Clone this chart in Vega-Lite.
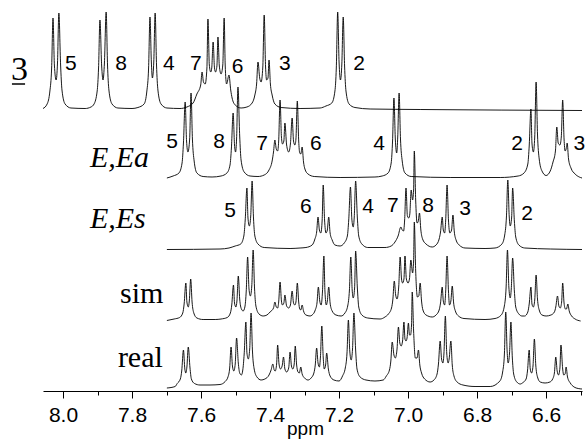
{
"$schema": "https://vega.github.io/schema/vega-lite/v6.json",
"width": 539, "height": 391,
"autosize": {"type": "none"},
"padding": {"left": 43, "top": 0, "right": 5, "bottom": 48},
"background": "white",
"config": {"view": {"stroke": null}},
"datasets": {
"spec": [
{"s":"t","x":8.058,"y":282.5},{"s":"t","x":8.046,"y":287},{"s":"t","x":8.038,"y":300},{"s":"t","x":8.033,"y":323},{"s":"t","x":8.029,"y":373},{"s":"t","x":8.025,"y":326},{"s":"t","x":8.020,"y":311},{"s":"t","x":8.016,"y":328},{"s":"t","x":8.012,"y":378},{"s":"t","x":8.007,"y":326},{"s":"t","x":8.003,"y":301},{"s":"t","x":7.994,"y":287},{"s":"t","x":7.977,"y":283},{"s":"t","x":7.936,"y":282.5},{"s":"t","x":7.919,"y":284},{"s":"t","x":7.910,"y":287},{"s":"t","x":7.901,"y":300},{"s":"t","x":7.897,"y":323},{"s":"t","x":7.893,"y":371},{"s":"t","x":7.888,"y":325},{"s":"t","x":7.884,"y":311},{"s":"t","x":7.880,"y":328},{"s":"t","x":7.875,"y":379},{"s":"t","x":7.871,"y":326},{"s":"t","x":7.867,"y":301},{"s":"t","x":7.858,"y":287},{"s":"t","x":7.841,"y":283},{"s":"t","x":7.800,"y":282.5},{"s":"t","x":7.783,"y":283.5},{"s":"t","x":7.765,"y":287},{"s":"t","x":7.757,"y":300},{"s":"t","x":7.752,"y":323},{"s":"t","x":7.748,"y":374},{"s":"t","x":7.744,"y":329},{"s":"t","x":7.741,"y":313},{"s":"t","x":7.737,"y":329},{"s":"t","x":7.733,"y":378},{"s":"t","x":7.729,"y":326},{"s":"t","x":7.725,"y":301},{"s":"t","x":7.716,"y":287},{"s":"t","x":7.699,"y":283},{"s":"t","x":7.661,"y":282.5},{"s":"t","x":7.641,"y":284},{"s":"t","x":7.623,"y":288},{"s":"t","x":7.612,"y":297},{"s":"t","x":7.601,"y":306},{"s":"t","x":7.597,"y":319},{"s":"t","x":7.593,"y":309},{"s":"t","x":7.588,"y":307},{"s":"t","x":7.583,"y":323},{"s":"t","x":7.580,"y":372},{"s":"t","x":7.576,"y":326},{"s":"t","x":7.572,"y":319},{"s":"t","x":7.569,"y":323},{"s":"t","x":7.565,"y":349},{"s":"t","x":7.561,"y":323},{"s":"t","x":7.558,"y":319},{"s":"t","x":7.554,"y":325},{"s":"t","x":7.551,"y":354},{"s":"t","x":7.547,"y":325},{"s":"t","x":7.542,"y":317},{"s":"t","x":7.537,"y":326},{"s":"t","x":7.533,"y":373},{"s":"t","x":7.530,"y":326},{"s":"t","x":7.526,"y":307},{"s":"t","x":7.519,"y":316},{"s":"t","x":7.514,"y":301},{"s":"t","x":7.510,"y":293},{"s":"t","x":7.501,"y":286},{"s":"t","x":7.484,"y":283},{"s":"t","x":7.467,"y":284},{"s":"t","x":7.452,"y":288},{"s":"t","x":7.444,"y":296},{"s":"t","x":7.439,"y":307},{"s":"t","x":7.435,"y":329},{"s":"t","x":7.430,"y":313},{"s":"t","x":7.426,"y":309},{"s":"t","x":7.421,"y":324},{"s":"t","x":7.417,"y":376},{"s":"t","x":7.413,"y":324},{"s":"t","x":7.410,"y":311},{"s":"t","x":7.406,"y":313},{"s":"t","x":7.403,"y":331},{"s":"t","x":7.399,"y":307},{"s":"t","x":7.394,"y":296},{"s":"t","x":7.386,"y":287},{"s":"t","x":7.368,"y":283.5},{"s":"t","x":7.313,"y":282.5},{"s":"t","x":7.255,"y":283},{"s":"t","x":7.238,"y":285},{"s":"t","x":7.221,"y":288},{"s":"t","x":7.212,"y":300},{"s":"t","x":7.208,"y":323},{"s":"t","x":7.204,"y":379},{"s":"t","x":7.200,"y":329},{"s":"t","x":7.196,"y":311},{"s":"t","x":7.192,"y":327},{"s":"t","x":7.188,"y":374},{"s":"t","x":7.184,"y":325},{"s":"t","x":7.180,"y":300},{"s":"t","x":7.171,"y":287},{"s":"t","x":7.154,"y":283.5},{"s":"t","x":7.110,"y":282},{"s":"t","x":6.965,"y":281.5},{"s":"t","x":6.496,"y":280.5},
{"s":"a","x":7.699,"y":213},{"s":"a","x":7.681,"y":215},{"s":"a","x":7.664,"y":218},{"s":"a","x":7.655,"y":228},{"s":"a","x":7.651,"y":248},{"s":"a","x":7.646,"y":289},{"s":"a","x":7.642,"y":250},{"s":"a","x":7.638,"y":239},{"s":"a","x":7.633,"y":252},{"s":"a","x":7.629,"y":298},{"s":"a","x":7.625,"y":252},{"s":"a","x":7.620,"y":230},{"s":"a","x":7.612,"y":218},{"s":"a","x":7.594,"y":214.5},{"s":"a","x":7.568,"y":214},{"s":"a","x":7.542,"y":215},{"s":"a","x":7.525,"y":218},{"s":"a","x":7.516,"y":226},{"s":"a","x":7.512,"y":243},{"s":"a","x":7.507,"y":278},{"s":"a","x":7.503,"y":246},{"s":"a","x":7.500,"y":239},{"s":"a","x":7.497,"y":252},{"s":"a","x":7.493,"y":304},{"s":"a","x":7.488,"y":255},{"s":"a","x":7.484,"y":231},{"s":"a","x":7.475,"y":219},{"s":"a","x":7.458,"y":215},{"s":"a","x":7.435,"y":214.5},{"s":"a","x":7.417,"y":216},{"s":"a","x":7.403,"y":221},{"s":"a","x":7.394,"y":230},{"s":"a","x":7.390,"y":239},{"s":"a","x":7.386,"y":251},{"s":"a","x":7.382,"y":242},{"s":"a","x":7.378,"y":240},{"s":"a","x":7.375,"y":250},{"s":"a","x":7.371,"y":291},{"s":"a","x":7.367,"y":254},{"s":"a","x":7.364,"y":247},{"s":"a","x":7.360,"y":250},{"s":"a","x":7.357,"y":268},{"s":"a","x":7.352,"y":246},{"s":"a","x":7.346,"y":239},{"s":"a","x":7.341,"y":247},{"s":"a","x":7.336,"y":273},{"s":"a","x":7.332,"y":250},{"s":"a","x":7.328,"y":246},{"s":"a","x":7.325,"y":252},{"s":"a","x":7.321,"y":290},{"s":"a","x":7.317,"y":250},{"s":"a","x":7.314,"y":238},{"s":"a","x":7.311,"y":237},{"s":"a","x":7.307,"y":244},{"s":"a","x":7.303,"y":229},{"s":"a","x":7.299,"y":222},{"s":"a","x":7.290,"y":217},{"s":"a","x":7.272,"y":214.5},{"s":"a","x":7.197,"y":213.5},{"s":"a","x":7.096,"y":214},{"s":"a","x":7.075,"y":215},{"s":"a","x":7.058,"y":218},{"s":"a","x":7.049,"y":228},{"s":"a","x":7.045,"y":250},{"s":"a","x":7.041,"y":293},{"s":"a","x":7.037,"y":252},{"s":"a","x":7.033,"y":238},{"s":"a","x":7.030,"y":254},{"s":"a","x":7.026,"y":298},{"s":"a","x":7.022,"y":252},{"s":"a","x":7.017,"y":230},{"s":"a","x":7.009,"y":218},{"s":"a","x":6.991,"y":214.5},{"s":"a","x":6.878,"y":213.5},{"s":"a","x":6.733,"y":213.5},{"s":"a","x":6.681,"y":215},{"s":"a","x":6.664,"y":218},{"s":"a","x":6.653,"y":227},{"s":"a","x":6.649,"y":245},{"s":"a","x":6.644,"y":282},{"s":"a","x":6.641,"y":248},{"s":"a","x":6.637,"y":239},{"s":"a","x":6.633,"y":254},{"s":"a","x":6.629,"y":309},{"s":"a","x":6.625,"y":257},{"s":"a","x":6.620,"y":232},{"s":"a","x":6.612,"y":220},{"s":"a","x":6.600,"y":215.5},{"s":"a","x":6.588,"y":220},{"s":"a","x":6.580,"y":229},{"s":"a","x":6.573,"y":240},{"s":"a","x":6.569,"y":264},{"s":"a","x":6.565,"y":248},{"s":"a","x":6.560,"y":246},{"s":"a","x":6.556,"y":254},{"s":"a","x":6.552,"y":291},{"s":"a","x":6.548,"y":252},{"s":"a","x":6.545,"y":240},{"s":"a","x":6.542,"y":242},{"s":"a","x":6.539,"y":248},{"s":"a","x":6.535,"y":232},{"s":"a","x":6.528,"y":223},{"s":"a","x":6.516,"y":217},{"s":"a","x":6.504,"y":214},{"s":"a","x":6.496,"y":213},
{"s":"e","x":7.699,"y":141.5},{"s":"e","x":7.545,"y":142},{"s":"e","x":7.519,"y":143},{"s":"e","x":7.501,"y":145},{"s":"e","x":7.485,"y":147},{"s":"e","x":7.476,"y":155},{"s":"e","x":7.472,"y":171},{"s":"e","x":7.467,"y":203},{"s":"e","x":7.464,"y":173},{"s":"e","x":7.460,"y":165},{"s":"e","x":7.456,"y":175},{"s":"e","x":7.452,"y":210},{"s":"e","x":7.448,"y":173},{"s":"e","x":7.444,"y":155},{"s":"e","x":7.435,"y":147},{"s":"e","x":7.417,"y":143.5},{"s":"e","x":7.342,"y":142.5},{"s":"e","x":7.313,"y":143},{"s":"e","x":7.296,"y":143.5},{"s":"e","x":7.278,"y":146},{"s":"e","x":7.270,"y":152},{"s":"e","x":7.265,"y":159},{"s":"e","x":7.261,"y":174},{"s":"e","x":7.257,"y":161},{"s":"e","x":7.253,"y":158},{"s":"e","x":7.249,"y":171},{"s":"e","x":7.246,"y":206},{"s":"e","x":7.242,"y":171},{"s":"e","x":7.238,"y":158},{"s":"e","x":7.234,"y":161},{"s":"e","x":7.230,"y":174},{"s":"e","x":7.226,"y":158},{"s":"e","x":7.220,"y":151},{"s":"e","x":7.212,"y":146},{"s":"e","x":7.197,"y":145},{"s":"e","x":7.185,"y":148},{"s":"e","x":7.176,"y":155},{"s":"e","x":7.172,"y":171},{"s":"e","x":7.167,"y":204},{"s":"e","x":7.163,"y":172},{"s":"e","x":7.159,"y":164},{"s":"e","x":7.156,"y":174},{"s":"e","x":7.152,"y":210},{"s":"e","x":7.147,"y":173},{"s":"e","x":7.143,"y":155},{"s":"e","x":7.134,"y":147},{"s":"e","x":7.117,"y":143.5},{"s":"e","x":7.067,"y":143.5},{"s":"e","x":7.049,"y":145},{"s":"e","x":7.038,"y":149},{"s":"e","x":7.029,"y":155},{"s":"e","x":7.021,"y":164},{"s":"e","x":7.017,"y":161},{"s":"e","x":7.013,"y":160},{"s":"e","x":7.010,"y":171},{"s":"e","x":7.006,"y":203},{"s":"e","x":7.002,"y":175},{"s":"e","x":6.998,"y":173},{"s":"e","x":6.995,"y":177},{"s":"e","x":6.991,"y":201},{"s":"e","x":6.987,"y":191},{"s":"e","x":6.984,"y":201},{"s":"e","x":6.982,"y":240},{"s":"e","x":6.978,"y":191},{"s":"e","x":6.974,"y":168},{"s":"e","x":6.971,"y":169},{"s":"e","x":6.967,"y":178},{"s":"e","x":6.963,"y":161},{"s":"e","x":6.958,"y":152},{"s":"e","x":6.948,"y":147},{"s":"e","x":6.930,"y":144},{"s":"e","x":6.919,"y":146},{"s":"e","x":6.910,"y":152},{"s":"e","x":6.906,"y":159},{"s":"e","x":6.901,"y":174},{"s":"e","x":6.898,"y":161},{"s":"e","x":6.894,"y":158},{"s":"e","x":6.891,"y":171},{"s":"e","x":6.887,"y":206},{"s":"e","x":6.883,"y":171},{"s":"e","x":6.879,"y":158},{"s":"e","x":6.874,"y":161},{"s":"e","x":6.870,"y":176},{"s":"e","x":6.866,"y":159},{"s":"e","x":6.861,"y":151},{"s":"e","x":6.852,"y":146},{"s":"e","x":6.835,"y":143},{"s":"e","x":6.777,"y":142.5},{"s":"e","x":6.748,"y":143},{"s":"e","x":6.728,"y":147},{"s":"e","x":6.720,"y":156},{"s":"e","x":6.715,"y":174},{"s":"e","x":6.711,"y":211},{"s":"e","x":6.707,"y":175},{"s":"e","x":6.704,"y":165},{"s":"e","x":6.700,"y":173},{"s":"e","x":6.697,"y":203},{"s":"e","x":6.692,"y":170},{"s":"e","x":6.688,"y":154},{"s":"e","x":6.679,"y":146},{"s":"e","x":6.662,"y":143},{"s":"e","x":6.588,"y":142},{"s":"e","x":6.496,"y":141.5},
{"s":"m","x":7.699,"y":70.5},{"s":"m","x":7.678,"y":72},{"s":"m","x":7.662,"y":73.5},{"s":"m","x":7.653,"y":78},{"s":"m","x":7.649,"y":87},{"s":"m","x":7.644,"y":108},{"s":"m","x":7.641,"y":89},{"s":"m","x":7.637,"y":84},{"s":"m","x":7.634,"y":90},{"s":"m","x":7.630,"y":112},{"s":"m","x":7.626,"y":89},{"s":"m","x":7.621,"y":78},{"s":"m","x":7.612,"y":73},{"s":"m","x":7.594,"y":71.5},{"s":"m","x":7.559,"y":71.5},{"s":"m","x":7.542,"y":72},{"s":"m","x":7.524,"y":73.5},{"s":"m","x":7.515,"y":78},{"s":"m","x":7.511,"y":86},{"s":"m","x":7.506,"y":106},{"s":"m","x":7.503,"y":88},{"s":"m","x":7.499,"y":84},{"s":"m","x":7.496,"y":90},{"s":"m","x":7.492,"y":115},{"s":"m","x":7.488,"y":92},{"s":"m","x":7.483,"y":82},{"s":"m","x":7.478,"y":80},{"s":"m","x":7.473,"y":84},{"s":"m","x":7.469,"y":100},{"s":"m","x":7.465,"y":134},{"s":"m","x":7.461,"y":102},{"s":"m","x":7.457,"y":95},{"s":"m","x":7.453,"y":105},{"s":"m","x":7.449,"y":141},{"s":"m","x":7.445,"y":103},{"s":"m","x":7.441,"y":85},{"s":"m","x":7.432,"y":77},{"s":"m","x":7.420,"y":75},{"s":"m","x":7.409,"y":76},{"s":"m","x":7.400,"y":79},{"s":"m","x":7.390,"y":83},{"s":"m","x":7.386,"y":89},{"s":"m","x":7.382,"y":84},{"s":"m","x":7.378,"y":83},{"s":"m","x":7.375,"y":89},{"s":"m","x":7.371,"y":109},{"s":"m","x":7.367,"y":90},{"s":"m","x":7.364,"y":86},{"s":"m","x":7.360,"y":88},{"s":"m","x":7.357,"y":96},{"s":"m","x":7.352,"y":85},{"s":"m","x":7.346,"y":83},{"s":"m","x":7.341,"y":86},{"s":"m","x":7.336,"y":100},{"s":"m","x":7.332,"y":88},{"s":"m","x":7.328,"y":86},{"s":"m","x":7.325,"y":89},{"s":"m","x":7.321,"y":108},{"s":"m","x":7.317,"y":89},{"s":"m","x":7.314,"y":82},{"s":"m","x":7.311,"y":81},{"s":"m","x":7.307,"y":86},{"s":"m","x":7.303,"y":80},{"s":"m","x":7.296,"y":76},{"s":"m","x":7.284,"y":75},{"s":"m","x":7.278,"y":76},{"s":"m","x":7.269,"y":81},{"s":"m","x":7.264,"y":88},{"s":"m","x":7.260,"y":104},{"s":"m","x":7.256,"y":90},{"s":"m","x":7.252,"y":86},{"s":"m","x":7.248,"y":100},{"s":"m","x":7.244,"y":135},{"s":"m","x":7.241,"y":100},{"s":"m","x":7.237,"y":86},{"s":"m","x":7.234,"y":90},{"s":"m","x":7.230,"y":104},{"s":"m","x":7.226,"y":88},{"s":"m","x":7.220,"y":80},{"s":"m","x":7.209,"y":76},{"s":"m","x":7.194,"y":75},{"s":"m","x":7.183,"y":78},{"s":"m","x":7.175,"y":85},{"s":"m","x":7.170,"y":101},{"s":"m","x":7.166,"y":134},{"s":"m","x":7.162,"y":101},{"s":"m","x":7.159,"y":93},{"s":"m","x":7.155,"y":103},{"s":"m","x":7.152,"y":140},{"s":"m","x":7.147,"y":103},{"s":"m","x":7.143,"y":84},{"s":"m","x":7.134,"y":76},{"s":"m","x":7.117,"y":73},{"s":"m","x":7.081,"y":72},{"s":"m","x":7.067,"y":74},{"s":"m","x":7.057,"y":77},{"s":"m","x":7.048,"y":83},{"s":"m","x":7.044,"y":92},{"s":"m","x":7.040,"y":110},{"s":"m","x":7.036,"y":96},{"s":"m","x":7.032,"y":92},{"s":"m","x":7.027,"y":105},{"s":"m","x":7.023,"y":134},{"s":"m","x":7.019,"y":112},{"s":"m","x":7.016,"y":108},{"s":"m","x":7.012,"y":112},{"s":"m","x":7.009,"y":135},{"s":"m","x":7.005,"y":112},{"s":"m","x":7.000,"y":108},{"s":"m","x":6.996,"y":112},{"s":"m","x":6.992,"y":131},{"s":"m","x":6.987,"y":118},{"s":"m","x":6.984,"y":130},{"s":"m","x":6.982,"y":169},{"s":"m","x":6.978,"y":120},{"s":"m","x":6.973,"y":94},{"s":"m","x":6.969,"y":95},{"s":"m","x":6.965,"y":108},{"s":"m","x":6.961,"y":90},{"s":"m","x":6.957,"y":81},{"s":"m","x":6.948,"y":76},{"s":"m","x":6.930,"y":74},{"s":"m","x":6.919,"y":76},{"s":"m","x":6.910,"y":81},{"s":"m","x":6.906,"y":88},{"s":"m","x":6.901,"y":104},{"s":"m","x":6.898,"y":90},{"s":"m","x":6.894,"y":86},{"s":"m","x":6.891,"y":100},{"s":"m","x":6.887,"y":135},{"s":"m","x":6.883,"y":100},{"s":"m","x":6.880,"y":86},{"s":"m","x":6.876,"y":90},{"s":"m","x":6.872,"y":105},{"s":"m","x":6.868,"y":88},{"s":"m","x":6.863,"y":80},{"s":"m","x":6.854,"y":75},{"s":"m","x":6.838,"y":72.5},{"s":"m","x":6.777,"y":71.5},{"s":"m","x":6.748,"y":72.5},{"s":"m","x":6.730,"y":76},{"s":"m","x":6.721,"y":85},{"s":"m","x":6.716,"y":103},{"s":"m","x":6.712,"y":141},{"s":"m","x":6.708,"y":104},{"s":"m","x":6.704,"y":93},{"s":"m","x":6.701,"y":102},{"s":"m","x":6.697,"y":133},{"s":"m","x":6.692,"y":100},{"s":"m","x":6.688,"y":84},{"s":"m","x":6.679,"y":77},{"s":"m","x":6.670,"y":75},{"s":"m","x":6.662,"y":75},{"s":"m","x":6.653,"y":79},{"s":"m","x":6.649,"y":87},{"s":"m","x":6.644,"y":104},{"s":"m","x":6.641,"y":87},{"s":"m","x":6.637,"y":84},{"s":"m","x":6.633,"y":91},{"s":"m","x":6.629,"y":116},{"s":"m","x":6.625,"y":92},{"s":"m","x":6.620,"y":81},{"s":"m","x":6.612,"y":76},{"s":"m","x":6.600,"y":75},{"s":"m","x":6.586,"y":76},{"s":"m","x":6.576,"y":79},{"s":"m","x":6.572,"y":84},{"s":"m","x":6.567,"y":95},{"s":"m","x":6.563,"y":85},{"s":"m","x":6.559,"y":83},{"s":"m","x":6.555,"y":89},{"s":"m","x":6.552,"y":108},{"s":"m","x":6.548,"y":88},{"s":"m","x":6.544,"y":82},{"s":"m","x":6.541,"y":82},{"s":"m","x":6.537,"y":87},{"s":"m","x":6.533,"y":80},{"s":"m","x":6.526,"y":75},{"s":"m","x":6.516,"y":72},{"s":"m","x":6.500,"y":70},
{"s":"r","x":7.699,"y":3},{"s":"r","x":7.675,"y":4.5},{"s":"r","x":7.669,"y":7.5},{"s":"r","x":7.660,"y":12},{"s":"r","x":7.656,"y":20},{"s":"r","x":7.651,"y":41},{"s":"r","x":7.647,"y":22},{"s":"r","x":7.644,"y":18},{"s":"r","x":7.641,"y":24},{"s":"r","x":7.637,"y":44},{"s":"r","x":7.632,"y":23},{"s":"r","x":7.628,"y":12},{"s":"r","x":7.619,"y":7.5},{"s":"r","x":7.603,"y":6},{"s":"r","x":7.574,"y":6},{"s":"r","x":7.545,"y":6.5},{"s":"r","x":7.530,"y":9.5},{"s":"r","x":7.522,"y":14},{"s":"r","x":7.517,"y":23},{"s":"r","x":7.513,"y":44},{"s":"r","x":7.509,"y":25},{"s":"r","x":7.505,"y":20},{"s":"r","x":7.501,"y":27},{"s":"r","x":7.497,"y":53},{"s":"r","x":7.492,"y":28},{"s":"r","x":7.488,"y":18},{"s":"r","x":7.483,"y":16},{"s":"r","x":7.479,"y":21},{"s":"r","x":7.475,"y":37},{"s":"r","x":7.470,"y":69},{"s":"r","x":7.467,"y":38},{"s":"r","x":7.463,"y":32},{"s":"r","x":7.459,"y":42},{"s":"r","x":7.455,"y":78},{"s":"r","x":7.451,"y":40},{"s":"r","x":7.446,"y":22},{"s":"r","x":7.438,"y":14},{"s":"r","x":7.426,"y":11},{"s":"r","x":7.415,"y":12},{"s":"r","x":7.403,"y":16},{"s":"r","x":7.397,"y":21},{"s":"r","x":7.392,"y":27},{"s":"r","x":7.388,"y":21},{"s":"r","x":7.385,"y":20},{"s":"r","x":7.381,"y":27},{"s":"r","x":7.378,"y":46},{"s":"r","x":7.374,"y":27},{"s":"r","x":7.370,"y":22},{"s":"r","x":7.365,"y":25},{"s":"r","x":7.361,"y":34},{"s":"r","x":7.357,"y":22},{"s":"r","x":7.352,"y":19},{"s":"r","x":7.346,"y":23},{"s":"r","x":7.342,"y":39},{"s":"r","x":7.338,"y":25},{"s":"r","x":7.334,"y":22},{"s":"r","x":7.330,"y":27},{"s":"r","x":7.327,"y":45},{"s":"r","x":7.323,"y":26},{"s":"r","x":7.319,"y":19},{"s":"r","x":7.315,"y":18},{"s":"r","x":7.311,"y":24},{"s":"r","x":7.307,"y":17},{"s":"r","x":7.300,"y":13},{"s":"r","x":7.290,"y":11},{"s":"r","x":7.281,"y":13},{"s":"r","x":7.273,"y":18},{"s":"r","x":7.269,"y":26},{"s":"r","x":7.265,"y":43},{"s":"r","x":7.261,"y":28},{"s":"r","x":7.257,"y":24},{"s":"r","x":7.254,"y":34},{"s":"r","x":7.250,"y":65},{"s":"r","x":7.246,"y":34},{"s":"r","x":7.243,"y":22},{"s":"r","x":7.239,"y":26},{"s":"r","x":7.236,"y":38},{"s":"r","x":7.231,"y":22},{"s":"r","x":7.226,"y":15},{"s":"r","x":7.215,"y":11},{"s":"r","x":7.200,"y":10},{"s":"r","x":7.190,"y":15},{"s":"r","x":7.182,"y":23},{"s":"r","x":7.177,"y":38},{"s":"r","x":7.173,"y":71},{"s":"r","x":7.169,"y":40},{"s":"r","x":7.165,"y":31},{"s":"r","x":7.161,"y":42},{"s":"r","x":7.157,"y":78},{"s":"r","x":7.152,"y":41},{"s":"r","x":7.148,"y":22},{"s":"r","x":7.139,"y":14},{"s":"r","x":7.122,"y":11},{"s":"r","x":7.096,"y":10},{"s":"r","x":7.072,"y":11},{"s":"r","x":7.063,"y":15},{"s":"r","x":7.054,"y":21},{"s":"r","x":7.050,"y":30},{"s":"r","x":7.046,"y":49},{"s":"r","x":7.041,"y":36},{"s":"r","x":7.037,"y":33},{"s":"r","x":7.032,"y":42},{"s":"r","x":7.028,"y":64},{"s":"r","x":7.024,"y":48},{"s":"r","x":7.020,"y":45},{"s":"r","x":7.016,"y":50},{"s":"r","x":7.012,"y":69},{"s":"r","x":7.009,"y":52},{"s":"r","x":7.006,"y":50},{"s":"r","x":7.003,"y":53},{"s":"r","x":6.999,"y":68},{"s":"r","x":6.996,"y":56},{"s":"r","x":6.993,"y":56},{"s":"r","x":6.990,"y":66},{"s":"r","x":6.988,"y":99},{"s":"r","x":6.984,"y":60},{"s":"r","x":6.979,"y":33},{"s":"r","x":6.974,"y":33},{"s":"r","x":6.970,"y":41},{"s":"r","x":6.966,"y":26},{"s":"r","x":6.961,"y":18},{"s":"r","x":6.952,"y":12},{"s":"r","x":6.936,"y":9},{"s":"r","x":6.925,"y":11},{"s":"r","x":6.916,"y":17},{"s":"r","x":6.912,"y":27},{"s":"r","x":6.907,"y":50},{"s":"r","x":6.903,"y":32},{"s":"r","x":6.899,"y":28},{"s":"r","x":6.896,"y":38},{"s":"r","x":6.892,"y":75},{"s":"r","x":6.888,"y":38},{"s":"r","x":6.884,"y":28},{"s":"r","x":6.881,"y":32},{"s":"r","x":6.876,"y":50},{"s":"r","x":6.872,"y":26},{"s":"r","x":6.867,"y":15},{"s":"r","x":6.858,"y":9},{"s":"r","x":6.841,"y":6},{"s":"r","x":6.806,"y":4.5},{"s":"r","x":6.762,"y":4.5},{"s":"r","x":6.734,"y":10},{"s":"r","x":6.726,"y":19},{"s":"r","x":6.721,"y":36},{"s":"r","x":6.717,"y":79},{"s":"r","x":6.713,"y":40},{"s":"r","x":6.710,"y":28},{"s":"r","x":6.706,"y":38},{"s":"r","x":6.702,"y":69},{"s":"r","x":6.698,"y":34},{"s":"r","x":6.694,"y":17},{"s":"r","x":6.685,"y":9},{"s":"r","x":6.675,"y":7},{"s":"r","x":6.667,"y":8.5},{"s":"r","x":6.658,"y":12},{"s":"r","x":6.654,"y":20},{"s":"r","x":6.649,"y":41},{"s":"r","x":6.646,"y":22},{"s":"r","x":6.642,"y":18},{"s":"r","x":6.638,"y":25},{"s":"r","x":6.634,"y":52},{"s":"r","x":6.630,"y":26},{"s":"r","x":6.625,"y":14},{"s":"r","x":6.617,"y":9},{"s":"r","x":6.603,"y":8},{"s":"r","x":6.589,"y":9},{"s":"r","x":6.581,"y":12},{"s":"r","x":6.576,"y":18},{"s":"r","x":6.572,"y":34},{"s":"r","x":6.568,"y":20},{"s":"r","x":6.564,"y":16},{"s":"r","x":6.560,"y":23},{"s":"r","x":6.557,"y":46},{"s":"r","x":6.552,"y":22},{"s":"r","x":6.549,"y":16},{"s":"r","x":6.545,"y":17},{"s":"r","x":6.542,"y":24},{"s":"r","x":6.538,"y":14},{"s":"r","x":6.530,"y":8},{"s":"r","x":6.519,"y":4},{"s":"r","x":6.507,"y":2.5},{"s":"r","x":6.496,"y":2}
],
"nums": [
{"t":"5","x":7.977,"y":321},{"t":"8","x":7.832,"y":321},{"t":"4","x":7.693,"y":321},{"t":"7","x":7.615,"y":321},{"t":"6","x":7.494,"y":318},{"t":"3","x":7.357,"y":321},{"t":"2","x":7.142,"y":321},
{"t":"5","x":7.684,"y":243},{"t":"8","x":7.548,"y":243},{"t":"7","x":7.423,"y":241},{"t":"6","x":7.267,"y":241},{"t":"4","x":7.084,"y":241},{"t":"2","x":6.684,"y":241},{"t":"3","x":6.504,"y":241},
{"t":"5","x":7.516,"y":174},{"t":"6","x":7.296,"y":178},{"t":"4","x":7.116,"y":178},{"t":"7","x":7.044,"y":179},{"t":"8","x":6.942,"y":179},{"t":"3","x":6.835,"y":176},{"t":"2","x":6.655,"y":171}
],
"ital": [
{"t":"E,Ea","x":7.922,"y":224},{"t":"E,Es","x":7.922,"y":163}
],
"roman": [
{"t":"sim","x":7.835,"y":88},{"t":"real","x":7.841,"y":24}
],
"big": [
{"t":"3","x":8.151,"y":311}
],
"under": [
{"x":8.148,"x2":8.110,"y":307}
]
},
"layer": [
{
"data": {"name": "spec"},
"mark": {"type": "line", "interpolate": "monotone", "color": "#000", "strokeWidth": 0.9},
"encoding": {
"x": {"field": "x", "type": "quantitative",
"scale": {"domain": [6.496, 8.058], "reverse": true, "nice": false, "zero": false},
"axis": {"orient": "bottom", "values": [8.0, 7.8, 7.6, 7.4, 7.2, 7.0, 6.8, 6.6], "format": ".1f", "grid": false,
"title": "ppm", "domainColor": "#000", "domainWidth": 1, "tickColor": "#000", "tickSize": 7, "tickWidth": 1,
"labelFont": "Liberation Sans", "labelFontSize": 21, "labelColor": "#000", "labelPadding": 6, "labelFlush": false, "labelOverlap": false,
"titleFont": "Liberation Sans", "titleFontSize": 19, "titleFontWeight": "normal", "titleColor": "#000",
"titleX": 262, "titleY": 43, "titleBaseline": "alphabetic"}},
"y": {"field": "y", "type": "quantitative", "scale": {"domain": [0, 391], "nice": false, "zero": false}, "axis": null},
"detail": {"field": "s"},
"order": {"field": "x", "sort": "descending"}
}
},
{
"data": {"name": "under"},
"mark": {"type": "rule", "color": "#000", "strokeWidth": 1.5},
"encoding": {
"x": {"field": "x", "type": "quantitative",
"scale": {"domain": [6.496, 8.058], "reverse": true, "nice": false, "zero": false},
"axis": {"orient": "bottom", "values": [7.9, 7.7, 7.5, 7.3, 7.1, 6.9, 6.7, 6.5], "labels": false, "domain": false, "grid": false, "title": null, "tickColor": "#000", "tickSize": 4, "tickWidth": 1}},
"x2": {"field": "x2"},
"y": {"field": "y", "type": "quantitative", "scale": {"domain": [0, 391], "nice": false, "zero": false}, "axis": null}
}
},
{
"data": {"name": "nums"},
"mark": {"type": "text", "font": "Liberation Sans", "fontSize": 21, "color": "#000", "align": "center", "baseline": "alphabetic"},
"encoding": {
"x": {"field": "x", "type": "quantitative", "scale": {"domain": [6.496, 8.058], "reverse": true, "nice": false, "zero": false}, "axis": null},
"y": {"field": "y", "type": "quantitative", "scale": {"domain": [0, 391], "nice": false, "zero": false}, "axis": null},
"text": {"field": "t"}
}
},
{
"data": {"name": "ital"},
"mark": {"type": "text", "font": "Liberation Serif", "fontSize": 30, "fontStyle": "italic", "color": "#000", "align": "left", "baseline": "alphabetic"},
"encoding": {
"x": {"field": "x", "type": "quantitative", "scale": {"domain": [6.496, 8.058], "reverse": true, "nice": false, "zero": false}, "axis": null},
"y": {"field": "y", "type": "quantitative", "scale": {"domain": [0, 391], "nice": false, "zero": false}, "axis": null},
"text": {"field": "t"}
}
},
{
"data": {"name": "roman"},
"mark": {"type": "text", "font": "Liberation Serif", "fontSize": 30, "color": "#000", "align": "left", "baseline": "alphabetic"},
"encoding": {
"x": {"field": "x", "type": "quantitative", "scale": {"domain": [6.496, 8.058], "reverse": true, "nice": false, "zero": false}, "axis": null},
"y": {"field": "y", "type": "quantitative", "scale": {"domain": [0, 391], "nice": false, "zero": false}, "axis": null},
"text": {"field": "t"}
}
},
{
"data": {"name": "big"},
"mark": {"type": "text", "font": "Liberation Serif", "fontSize": 34, "color": "#000", "align": "left", "baseline": "alphabetic"},
"encoding": {
"x": {"field": "x", "type": "quantitative", "scale": {"domain": [6.496, 8.058], "reverse": true, "nice": false, "zero": false}, "axis": null},
"y": {"field": "y", "type": "quantitative", "scale": {"domain": [0, 391], "nice": false, "zero": false}, "axis": null},
"text": {"field": "t"}
}
}
],
"resolve": {"axis": {"x": "independent"}}
}
